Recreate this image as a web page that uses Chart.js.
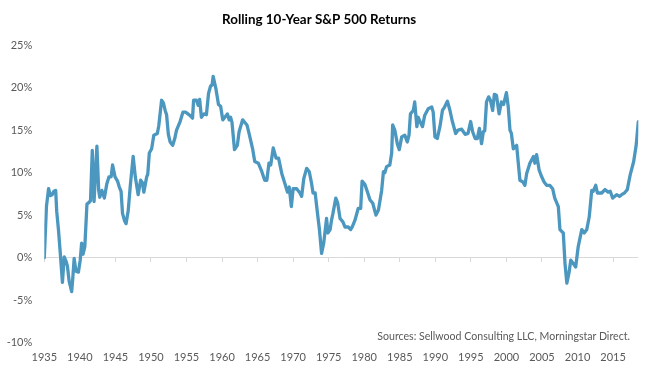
<!DOCTYPE html>
<html>
<head>
<meta charset="utf-8">
<script src="https://cdn.jsdelivr.net/npm/chart.js@4/dist/chart.umd.min.js"></script>
<style>
  html, body { margin: 0; padding: 0; background: #fff; }
  #wrap { position: relative; width: 653px; height: 374px; }
  #source {
    position: absolute; right: 23px; top: 330px;
    font: 10.6px Lato, sans-serif; color: #595959; white-space: nowrap;
  }
</style>
</head>
<body>
<div id="wrap">
  <canvas id="chart" width="653" height="374"></canvas>
  <div id="source">Sources: Sellwood Consulting LLC, Morningstar Direct.</div>
</div>
<script>
// Rolling 10-year S&P 500 annualised return (decimal year, %)
const years = [
  1935.0, 1935.3, 1935.6, 1935.85, 1936.1, 1936.35, 1936.6, 1936.75, 1937.0, 1937.25,
  1937.55, 1937.8, 1938.05, 1938.25, 1938.5, 1938.85, 1939.0, 1939.2, 1939.45, 1939.8,
  1940.05, 1940.25, 1940.45, 1940.7, 1941.0, 1941.3, 1941.5, 1941.75, 1942.0, 1942.4,
  1942.65, 1942.8, 1943.1, 1943.45, 1943.8, 1944.1, 1944.4, 1944.6, 1944.95, 1945.3,
  1945.55, 1945.8, 1946.0, 1946.3, 1946.5, 1946.8, 1947.1, 1947.5, 1947.8, 1948.2,
  1948.55, 1948.8, 1949.0, 1949.4, 1949.55, 1949.77, 1950.1, 1950.4, 1950.9, 1951.1,
  1951.5, 1951.75, 1952.0, 1952.2, 1952.45, 1952.7, 1953.06, 1953.35, 1953.6, 1954.1,
  1954.5, 1954.9, 1955.2, 1955.5, 1955.85, 1956.0, 1956.4, 1956.65, 1956.85, 1957.1,
  1957.45, 1957.8, 1958.1, 1958.4, 1958.6, 1958.75, 1959.15, 1959.5, 1959.8, 1960.1,
  1960.4, 1960.75, 1961.0, 1961.2, 1961.4, 1961.75, 1962.15, 1962.4, 1962.9, 1963.5,
  1963.8, 1964.3, 1964.6, 1965.1, 1965.6, 1966.0, 1966.3, 1966.6, 1966.85, 1967.2,
  1967.6, 1967.95, 1968.4, 1968.85, 1969.2, 1969.45, 1969.75, 1970.0, 1970.5, 1970.96,
  1971.2, 1971.5, 1971.9, 1972.27, 1972.6, 1972.8, 1973.1, 1973.4, 1973.7, 1974.0,
  1974.3, 1974.7, 1974.9, 1975.2, 1975.4, 1975.6, 1976.0, 1976.27, 1976.6, 1977.0,
  1977.3, 1977.75, 1978.1, 1978.3, 1978.7, 1979.16, 1979.5, 1979.7, 1980.1, 1980.5,
  1980.8, 1981.2, 1981.65, 1982.0, 1982.45, 1982.7, 1982.9, 1983.15, 1983.6, 1983.86,
  1984.0, 1984.3, 1984.65, 1984.93, 1985.27, 1985.7, 1986.06, 1986.3, 1986.5, 1986.9,
  1987.1, 1987.4, 1987.6, 1987.84, 1988.2, 1988.5, 1989.0, 1989.5, 1989.7, 1989.95,
  1990.27, 1990.65, 1991.0, 1991.3, 1991.7, 1992.06, 1992.4, 1992.86, 1993.2, 1993.7,
  1994.2, 1994.6, 1994.97, 1995.25, 1995.6, 1995.9, 1996.2, 1996.5, 1996.75, 1996.95,
  1997.2, 1997.5, 1997.75, 1998.06, 1998.3, 1998.6, 1998.97, 1999.3, 1999.6, 2000.0,
  2000.26, 2000.5, 2000.7, 2000.97, 2001.44, 2001.67, 2001.9, 2002.3, 2002.6, 2002.85,
  2003.3, 2003.8, 2004.0, 2004.25, 2004.6, 2004.96, 2005.3, 2005.66, 2006.1, 2006.5,
  2006.8, 2007.3, 2007.53, 2008.0, 2008.24, 2008.5, 2008.8, 2009.05, 2009.4, 2009.74,
  2010.1, 2010.6, 2010.95, 2011.3, 2011.65, 2012.0, 2012.2, 2012.56, 2012.8, 2013.4,
  2013.86, 2014.3, 2014.6, 2014.95, 2015.5, 2015.9, 2016.2, 2016.6, 2017.0, 2017.4,
  2017.9, 2018.25, 2018.55,
];
const returns = [
  0.0, 6.0, 8.1, 7.3, 7.4, 7.8, 7.9, 5.4, 3.2, 0.5,
  -2.9, 0.1, -0.4, -1.0, -2.8, -4.0, -2.5, -0.1, -1.6, -1.7,
  -0.3, 1.7, 0.4, 1.3, 6.3, 6.5, 6.7, 12.6, 6.6, 13.1,
  7.9, 7.1, 7.9, 7.0, 8.7, 9.5, 9.5, 10.9, 9.5, 9.0,
  8.3, 7.8, 5.2, 4.3, 4.0, 5.5, 8.5, 11.9, 9.5, 7.4,
  9.1, 8.8, 7.7, 9.5, 9.8, 12.3, 12.8, 14.4, 14.6, 15.5,
  18.5, 18.2, 17.3, 16.8, 14.5, 13.6, 13.2, 14.0, 15.0, 16.0,
  17.1, 17.1, 16.9, 16.7, 16.4, 18.5, 18.5, 17.9, 18.6, 16.5,
  16.9, 16.8, 19.3, 20.2, 20.3, 21.3, 19.8, 18.0, 17.8, 16.2,
  16.5, 16.9, 16.2, 16.5, 15.9, 12.7, 13.2, 14.8, 16.2, 15.6,
  14.6, 12.8, 11.3, 11.1, 10.1, 9.1, 9.1, 11.1, 10.9, 12.9,
  11.7, 11.7, 9.9, 8.7, 7.7, 8.3, 6.0, 8.1, 8.1, 7.6,
  7.2, 9.3, 10.5, 10.1, 8.7, 7.6, 7.6, 5.4, 3.3, 0.5,
  1.7, 4.6, 2.9, 3.3, 4.4, 5.2, 7.0, 6.4, 4.6, 4.2,
  3.6, 3.6, 3.3, 3.6, 4.4, 5.8, 5.8, 9.0, 8.6, 7.6,
  6.8, 6.4, 5.0, 5.6, 7.9, 10.1, 10.0, 10.7, 10.9, 12.3,
  15.6, 15.0, 13.4, 12.7, 14.2, 14.4, 13.6, 14.4, 16.9, 17.3,
  18.3, 15.4, 16.5, 16.0, 15.4, 16.7, 17.5, 17.7, 17.1, 14.2,
  14.0, 15.4, 17.3, 17.7, 18.4, 17.3, 16.0, 14.6, 15.0, 15.1,
  14.5, 14.6, 16.0, 14.8, 14.0, 14.0, 15.2, 13.4, 14.8, 14.9,
  18.3, 18.9, 18.5, 17.3, 19.2, 19.1, 16.9, 18.3, 18.0, 19.4,
  17.7, 15.0, 14.6, 12.8, 13.2, 11.1, 9.1, 8.9, 8.5, 9.9,
  11.1, 11.9, 11.1, 12.1, 10.3, 9.5, 8.9, 8.5, 8.5, 8.1,
  7.0, 6.0, 3.3, 2.9, -0.7, -3.0, -1.8, -0.3, -0.7, -1.1,
  1.3, 3.3, 2.9, 3.3, 4.8, 7.9, 7.8, 8.5, 7.6, 7.6,
  8.0, 7.7, 7.8, 7.0, 7.4, 7.2, 7.4, 7.6, 8.0, 9.7,
  11.3, 13.2, 16.0,
];
const yearMin = 1935;
const yearMax = 2018.55;
const yearStep = 5;
const pctMin = -10;
const pctMax = 25;
const pctStep = 5;

const LINE = "#4b97bf";
const AXIS = "#d9d9d9";
const TEXT = "#595959";
const FONT = "Lato, sans-serif";

new Chart(document.getElementById("chart"), {
  type: "line",
  data: {
    datasets: [{
      data: years.map((y, i) => ({ x: y, y: returns[i] })),
      borderColor: LINE,
      borderWidth: 3.3,
      borderJoinStyle: "round",
      borderCapStyle: "round",
      pointRadius: 0,
      tension: 0,
      xAxisID: "x",
      yAxisID: "y",
    }],
  },
  options: {
    responsive: false,
    animation: false,
    layout: { padding: { left: 0, right: 14.7, top: 0, bottom: 0 } },
    plugins: {
      legend: { display: false },
      tooltip: { enabled: false },
      title: {
        display: true,
        text: "Rolling 10-Year S&P 500 Returns",
        color: "#000",
        font: { family: FONT, size: 13.4, weight: "bold", lineHeight: 1.2 },
        padding: { top: 11.8, bottom: 17.1 },
      },
    },
    scales: {
      x: {
        type: "linear",
        position: "bottom",
        min: yearMin, max: yearMax,
        afterFit: (s) => { s.height = 31.3; },
        border: { display: false },
        grid: { display: false, drawTicks: false },
        ticks: {
          stepSize: yearStep, includeBounds: false, padding: 8,
          color: TEXT, font: { family: FONT, size: 11 },
          maxRotation: 0, autoSkip: false,
          callback: (v) => String(v),
        },
      },
      // tick marks hanging below the 0% line
      x0: {
        type: "linear",
        position: { y: 0 },
        min: yearMin, max: yearMax,
        border: { display: false },
        grid: { display: true, drawOnChartArea: false, drawTicks: true, tickLength: 4, color: AXIS },
        ticks: { display: false, stepSize: yearStep, includeBounds: false },
      },
      y: {
        min: pctMin, max: pctMax,
        afterFit: (s) => { s.width = 44.3; },
        border: { display: false },
        grid: {
          drawTicks: false,
          lineWidth: 1,
          color: (c) => (c.tick && c.tick.value === 0 ? AXIS : "rgba(0,0,0,0)"),
        },
        ticks: {
          stepSize: pctStep, padding: 12,
          color: TEXT, font: { family: FONT, size: 11 },
          callback: (v) => v + "%",
        },
      },
    },
  },
});
</script>
</body>
</html>
